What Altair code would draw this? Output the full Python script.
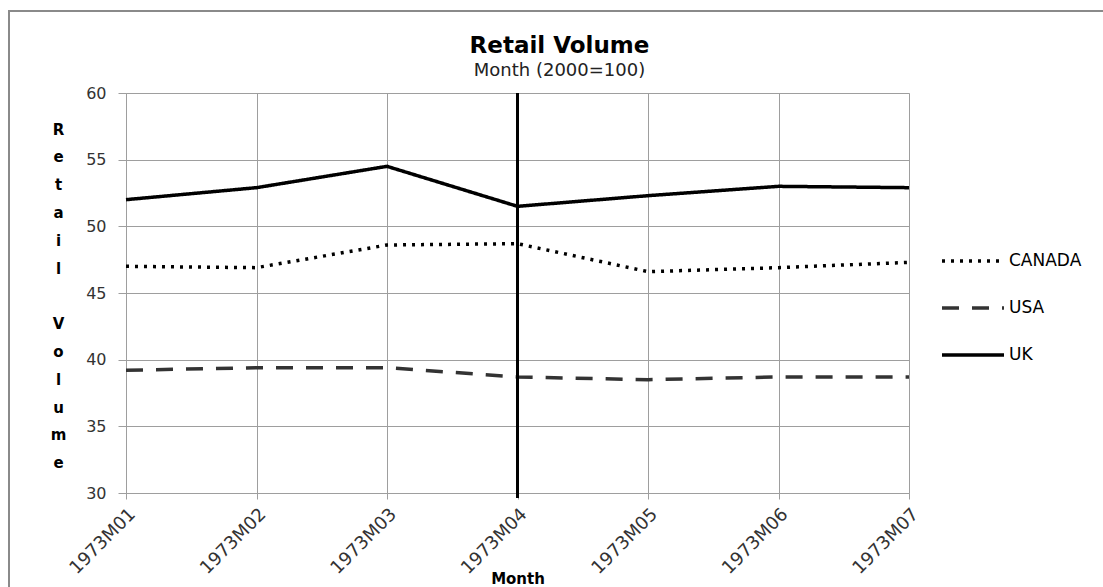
import altair as alt
import pandas as pd

# Monthly retail volume index (2000 = 100)
months = ["1973M01", "1973M02", "1973M03", "1973M04", "1973M05", "1973M06", "1973M07"]
canada = [47.0, 46.9, 48.6, 48.7, 46.6, 46.9, 47.3]
usa = [39.2, 39.4, 39.4, 38.7, 38.5, 38.7, 38.7]
uk = [52.0, 52.9, 54.5, 51.5, 52.3, 53.0, 52.9]
series = ["CANADA", "USA", "UK"]
marker_month = "1973M04"
y_ticks = [30, 35, 40, 45, 50, 55, 60]

rows = []
for name, vals in zip(series, [canada, usa, uk]):
    for m, v in zip(months, vals):
        rows.append({"Month": m, "Country": name, "Value": v})
df = pd.DataFrame(rows)

FONT = "DejaVu Sans"
GRID = "#9e9e9e"
W, H = 783, 400

x_scale = alt.Scale(type="point", domain=months, padding=0)

x_enc = alt.X(
    "Month:N",
    sort=months,
    scale=x_scale,
    axis=alt.Axis(
        title="Month",
        grid=True,
        gridColor=GRID,
        domainColor=GRID,
        tickColor=GRID,
        tickSize=6,
        labelAngle=-45,
        labelAlign="right",
        labelBaseline="top",
        labelPadding=6,
        labelFont=FONT,
        labelFontSize=18,
        labelColor="#333333",
        titleFont=FONT,
        titleFontSize=15,
        titleFontWeight="bold",
        titleColor="#000000",
        titleX=W / 2,
        titleY=78,
        titleAlign="center",
        titleBaseline="top",
    ),
)

# stacked letters of the y title, with a blank line between the two words
y_title = ["R", "e", "t", "a", "i", "l", "\u200b", "V", "o", "l", "u", "m", "e"]

y_enc = alt.Y(
    "Value:Q",
    scale=alt.Scale(domain=[30, 60], nice=False, zero=False),
    axis=alt.Axis(
        values=y_ticks,
        grid=True,
        gridColor=GRID,
        domainColor=GRID,
        tickColor=GRID,
        tickSize=8,
        labelPadding=12,
        labelFont=FONT,
        labelFontSize=16,
        labelColor="#333333",
        title=y_title,
        titleAngle=0,
        titleX=-68,
        titleY=36,
        titleAlign="center",
        titleBaseline="middle",
        titleLineHeight=27.8,
        titleFont=FONT,
        titleFontSize=15,
        titleFontWeight="bold",
        titleColor="#000000",
    ),
)

legend = alt.Legend(
    title=None,
    orient="none",
    legendX=829.5,
    legendY=150.5,
    symbolType="M-2,0H2",
    symbolSize=961,
    symbolStrokeWidth=3.5,
    labelFont=FONT,
    labelFontSize=17,
    labelColor="#000000",
    labelOffset=18.5,
    rowPadding=21,
)

lines = alt.Chart(df).mark_line(strokeWidth=3.5, strokeCap="butt").encode(
    x=x_enc,
    y=y_enc,
    color=alt.Color(
        "Country:N",
        scale=alt.Scale(domain=series, range=["#000000", "#333333", "#000000"]),
        legend=legend,
    ),
    strokeDash=alt.StrokeDash(
        "Country:N",
        scale=alt.Scale(domain=series, range=[[3, 6], [17, 13], [1, 0]]),
        legend=legend,
    ),
)

# vertical marker at the chosen month
marker = alt.Chart(alt.Data(values=[{"Month": marker_month}])).mark_rule(
    color="#000000", strokeWidth=3
).encode(
    x=alt.X("Month:N", sort=months, scale=x_scale),
    y=alt.value(0),
    y2=alt.value(H + 5),
)

# outer chart-area frame
frame = alt.Chart(alt.Data(values=[{}])).mark_rect(
    filled=False, color="#8a8a8a", strokeWidth=2
).encode(
    x=alt.value(-117),
    x2=alt.value(985),
    y=alt.value(-82),
    y2=alt.value(510),
)

chart = alt.layer(frame, lines, marker).properties(
    width=W,
    height=H,
    title=alt.TitleParams(
        text="Retail Volume",
        subtitle="Month (2000=100)",
        anchor="middle",
        dx=42,
        font=FONT,
        fontSize=23,
        fontWeight="bold",
        color="#000000",
        subtitleFont=FONT,
        subtitleFontSize=18,
        subtitleColor="#222222",
        subtitlePadding=4,
        offset=-69.5,
    ),
    autosize=alt.AutoSizeParams(type="none"),
    padding={"left": 126, "top": 93, "right": 194, "bottom": 94},
).configure_view(stroke=None).configure(background="white")

chart.save("out.html", embed_options={"renderer": "svg", "actions": False})
